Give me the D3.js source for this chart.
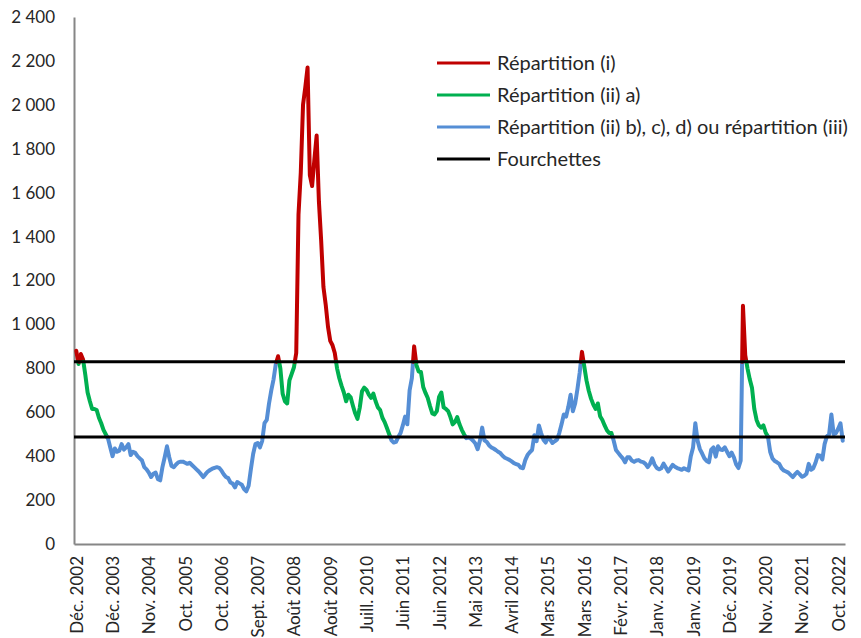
<!DOCTYPE html>
<html>
<head>
<meta charset="utf-8">
<script src="https://cdn.jsdelivr.net/npm/d3@7"></script>
<style>
  body { margin: 0; background: #fff; }
  svg { display: block; }
  text { font-family: Lato, "Open Sans", sans-serif; fill: #262626; }
</style>
</head>
<body>
<svg id="chart" width="861" height="638"></svg>
<script>
// Series values (one point every 1/16 of a label interval)
const values = [
  880, 820, 865, 840, 770, 690, 650, 615, 615, 610, 575, 550, 520, 500, 480, 440,
  400, 435, 420, 425, 455, 430, 440, 455, 405, 420, 415, 400, 390, 380, 350, 340,
  325, 305, 320, 325, 295, 290, 350, 395, 445, 395, 355, 350, 362, 372, 375, 375,
  370, 365, 370, 360, 350, 340, 330, 318, 305, 318, 330, 337, 343, 347, 350, 347,
  335, 318, 305, 300, 280, 275, 258, 282, 276, 270, 250, 240, 265, 340, 410, 455,
  460, 440, 470, 550, 565, 640, 700, 750, 820, 855, 800, 685, 650, 640, 745, 775,
  805, 870, 1500, 1690, 2000, 2080, 2170, 1680, 1630, 1750, 1860, 1560, 1380, 1170, 1090, 990,
  925, 905, 870, 800, 755, 720, 690, 650, 680, 668, 630, 595, 570, 620, 695, 712,
  702, 680, 665, 685, 650, 622, 610, 575, 555, 528, 500, 472, 462, 465, 487, 505,
  540, 580, 545, 700, 755, 900, 815, 785, 783, 715, 688, 665, 628, 595, 590, 605,
  670, 690, 622, 615, 605, 578, 545, 555, 578, 545, 520, 500, 482, 485, 480, 470,
  458, 432, 470, 530, 472, 465, 450, 440, 435, 428, 420, 414, 402, 393, 388, 383,
  376, 368, 364, 360, 348, 345, 382, 405, 418, 428, 495, 468, 540, 505, 475, 462,
  485, 475, 460, 468, 475, 505, 545, 590, 580, 625, 680, 605, 640, 705, 780, 875,
  810, 745, 698, 662, 635, 615, 640, 582, 565, 540, 518, 505, 505, 470, 428, 415,
  402, 390, 372, 395, 395, 380, 374, 380, 382, 375, 373, 365, 350, 365, 390, 362,
  346, 340, 345, 366, 348, 330, 345, 360, 352, 346, 342, 338, 345, 340, 335, 400,
  440, 550, 470, 432, 412, 390, 378, 372, 430, 440, 398, 445, 430, 428, 440, 420,
  400, 416, 395, 362, 346, 380, 1085, 860, 800, 750, 710, 615, 565, 540, 530, 540,
  508, 490, 420, 390, 378, 372, 365, 345, 335, 330, 325, 315, 305, 318, 328, 318,
  306, 310, 320, 365, 338, 345, 370, 405, 402, 385, 455, 490, 500, 590, 500, 505,
  525, 550, 470
];

const tickLabels = [
  "Déc. 2002", "Déc. 2003", "Nov. 2004", "Oct. 2005", "Oct. 2006", "Sept. 2007",
  "Août 2008", "Août 2009", "Juill. 2010", "Juin 2011", "Juin 2012", "Mai 2013",
  "Avril 2014", "Mars 2015", "Mars 2016", "Févr. 2017", "Janv. 2018", "Janv. 2019",
  "Déc. 2019", "Nov. 2020", "Nov. 2021", "Oct. 2022"
];
const pointsPerLabel = 16;

const fourchettes = [830, 487];        // upper, lower band
const yTicks = [0, 200, 400, 600, 800, 1000, 1200, 1400, 1600, 1800, 2000, 2200, 2400];

const seriesNames = [
  "Répartition (i)",
  "Répartition (ii) a)",
  "Répartition (ii) b), c), d) ou répartition (iii)",
  "Fourchettes"
];
const seriesColors = ["#C00000", "#00B050", "#558ED5", "#000000"];

// ---------- layout ----------
const svg = d3.select("#chart");
const x = d3.scaleLinear().domain([-1, values.length]).range([74, 845]);
const y = d3.scaleLinear().domain([0, 2400]).range([544, 17]);

// classify each point (hysteresis between the two bands)
const upper = fourchettes[0], lower = fourchettes[1];
let high = values[0] > upper;
const cls = values.map(v => {
  if (!high && v > upper) high = true;
  else if (high && v < lower) high = false;
  return high ? (v > upper ? 0 : 1) : 2;
});

// runs of the same class, split where the line crosses the relevant band
const runs = [];
let cur = { c: cls[0], pts: [[0, values[0]]] };
runs.push(cur);
for (let i = 1; i < values.length; i++) {
  if (cls[i] === cls[i - 1]) { cur.pts.push([i, values[i]]); continue; }
  const a = cls[i - 1], b = cls[i];
  const thr = ((a === 1 && b === 2) || (a === 2 && b === 1)) ? lower : upper;
  const v0 = values[i - 1], v1 = values[i];
  let t = (thr - v0) / (v1 - v0);
  t = Math.max(0, Math.min(1, t));
  const split = [i - 1 + t, v0 + t * (v1 - v0)];
  cur.pts.push(split);
  cur = { c: b, pts: [split, [i, v1]] };
  runs.push(cur);
}

const line = d3.line().x(p => x(p[0])).y(p => y(p[1]));

// axes
const fmt = d3.formatLocale({ decimal: ",", thousands: " ", grouping: [3], currency: ["", ""] }).format(",d");

const yAxis = svg.append("g")
  .attr("transform", `translate(${x(-1)},0)`)
  .call(d3.axisLeft(y).tickValues(yTicks).tickFormat(fmt).tickSize(0).tickPadding(19));
yAxis.selectAll("text").style("font-size", "17px");

const xAxis = svg.append("g")
  .attr("transform", `translate(0,${y(0)})`)
  .call(d3.axisBottom(x)
    .tickValues(tickLabels.map((_, k) => k * pointsPerLabel))
    .tickFormat((d, k) => tickLabels[k])
    .tickSize(0));
xAxis.selectAll("text")
  .attr("y", 0)
  .attr("x", -12)
  .attr("dy", "0.35em")
  .attr("transform", "rotate(-90)")
  .style("text-anchor", "end")
  .style("font-size", "17px");

svg.selectAll(".domain").attr("stroke", "#868686").attr("stroke-width", 2);

// series
svg.append("g").selectAll("path")
  .data(runs)
  .join("path")
  .attr("d", r => line(r.pts))
  .attr("fill", "none")
  .attr("stroke", r => seriesColors[r.c])
  .attr("stroke-width", 4)
  .attr("stroke-linejoin", "round")
  .attr("stroke-linecap", "round");

// fourchettes
svg.append("g").selectAll("line")
  .data(fourchettes)
  .join("line")
  .attr("x1", x(-1)).attr("x2", x(values.length))
  .attr("y1", d => y(d)).attr("y2", d => y(d))
  .attr("stroke", seriesColors[3])
  .attr("stroke-width", 3);

// legend
const leg = svg.append("g").selectAll("g")
  .data(seriesNames)
  .join("g")
  .attr("transform", (d, j) => `translate(437,${63 + j * 32})`);
leg.append("line")
  .attr("x1", 0).attr("x2", 53)
  .attr("stroke", (d, j) => seriesColors[j])
  .attr("stroke-width", 3);
leg.append("text")
  .attr("x", 60)
  .attr("dy", "0.35em")
  .style("font-size", "20px")
  .text(d => d);
</script>
</body>
</html>
